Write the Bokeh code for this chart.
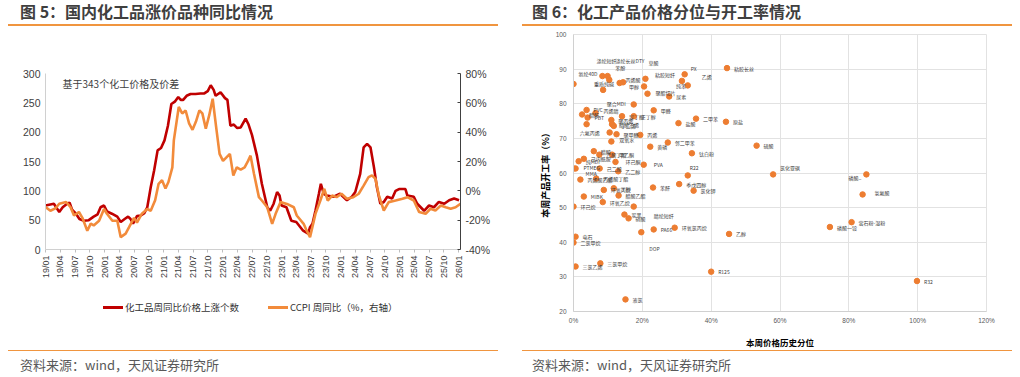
import math
from bokeh.plotting import figure
from bokeh.models import (Range1d, LinearAxis, FixedTicker, PrintfTickFormatter,
                          Label, Div, ColumnDataSource)
from bokeh.layouts import row, column
from bokeh.embed import file_html
from bokeh.resources import INLINE
from bokeh.core.properties import value

# ---------------- data: 图5 ----------------
tick_labels = ["19/01", "19/04", "19/07", "19/10", "20/01", "20/04", "20/07", "20/10",
               "21/01", "21/04", "21/07", "21/10", "22/01", "22/04", "22/07", "22/10",
               "23/01", "23/04", "23/07", "23/10", "24/01", "24/04", "24/07", "24/10",
               "25/01", "25/04", "25/07", "25/10", "26/01"]
series_names = ["化工品周同比价格上涨个数", "CCPI 周同比（%，右轴）"]

# months since 2019-01
red_month = [0, 1.7, 2.8, 3.5, 4.4, 4.9, 5.4, 6.2, 6.9, 7.8, 8.8, 9.8, 10.6, 11.2, 11.9, 12.5,
             13.5, 14.6, 15.3, 16.1, 16.8, 17.3, 17.8, 18.6, 19.4, 20.1, 20.7, 21.4, 22.1, 22.8,
             23.5, 24.2, 24.9, 25.6, 26.3, 27.0, 27.5, 28.0, 28.7, 29.5, 30.5, 31.5, 32.3, 33.0,
             33.6, 34.2, 34.6, 35.6, 36.5, 37.0, 37.6, 38.3, 39.0, 39.7, 40.7, 41.3, 42.0, 43.0,
             44.0, 45.1, 45.7, 46.4, 47.1, 47.6, 48.0, 49.0, 50.0, 51.0, 52.4, 53.4, 53.8, 54.3,
             54.9, 55.6, 56.0, 56.6, 57.2, 58.6, 59.9, 61.3, 62.3, 63.0, 64.0, 64.7, 65.4, 66.1,
             66.8, 67.4, 68.1, 68.8, 69.5, 70.5, 71.2, 71.9, 73.2, 73.6, 74.9, 75.6, 77.0, 78.0,
             79.0, 80.0, 81.1, 82.1, 83.1, 84.1]
red_count = [75, 78, 64, 72, 78, 80, 68, 61, 52, 49, 50, 56, 60, 72, 75, 65,
             61, 56, 47, 52, 56, 52, 44, 57, 58, 62, 72, 106, 135, 169,
             173, 186, 211, 248, 252, 260, 255, 255, 262, 265, 265, 266, 266, 270,
             280, 272, 262, 268, 258, 255, 211, 213, 207, 208, 223, 213, 195, 160,
             112, 72, 66, 78, 98, 92, 75, 72, 49, 47, 32, 27, 38, 44,
             66, 95, 112, 95, 92, 90, 95, 84, 90, 98, 129, 174, 180, 174,
             140, 106, 78, 81, 90, 87, 100, 103, 103, 92, 90, 78, 66, 75,
             72, 81, 78, 84, 87, 84]

orange_month = [0, 1.0, 2.0, 2.8, 4.2, 5.1, 5.8, 6.8, 7.5, 8.5, 9.2, 9.8, 10.9, 11.9, 12.5,
                13.6, 14.6, 15.3, 16.3, 17.0, 18.0, 18.6, 19.6, 20.7, 21.4, 22.3, 23.0, 23.7,
                24.4, 25.0, 25.8, 26.1, 27.1, 27.8, 28.5, 29.2, 29.9, 30.6, 31.3, 31.9, 32.6,
                33.3, 34.0, 34.7, 35.4, 36.1, 36.8, 37.5, 38.2, 38.9, 39.7, 40.5, 41.2, 41.7,
                42.4, 43.4, 44.0, 45.1, 46.1, 46.8, 47.8, 49.1, 50.5, 51.1, 52.5, 53.1, 53.8,
                54.9, 55.9, 56.7, 57.4, 58.3, 59.2, 60.2, 61.3, 62.6, 63.7, 64.7, 65.7, 66.4,
                67.1, 67.8, 68.8, 69.8, 71.2, 72.6, 73.6, 74.9, 76.0, 77.3, 78.3, 79.3, 80.4,
                81.4, 82.4, 83.4, 84.4]
orange_pct = [-11, -13.6, -12, -8.8, -7.6, -11.2, -16.8, -14.4, -18.4, -27.2, -22.4, -23.6,
              -20.4, -12.4, -15.6, -20.4, -20.4, -31.6, -29.2, -24.8, -18.4, -21.6, -15.6,
              -12.4, -13.6, -6.4, 4.8, 7.2, 1.6, 6, 16, 34.4, 57.2, 52.8, 54.8, 46, 41.6,
              47.2, 54.8, 52.8, 42.4, 51.6, 62.8, 43.6, 25.2, 20.4, 22.8, 25.2, 10.4, 16,
              14.5, 16, 20.4, 24, 11.6, -4.3, -6.6, -11.2, -22.5, -15.7, -7.7, -8.9, -11.2,
              -16.8, -22.5, -27, -31.6, -15.7, -6.6, 1.4, -6.6, -3.2, -4.3, -2, -5.4, -4.3,
              -2, 3.6, 9.3, 10.5, 8.2, -3.2, -13.4, -7.7, -6.6, -5.4, -4.3, -6.6, -14.5,
              -15.7, -12.2, -13.4, -10, -11.2, -12.2, -11.2, -8.8]

# ---------------- data: 图6 ----------------
names = ["氨纶40D", "涤纶短纤", "涤纶长丝DTY", "苯酚", "重质纯碱", "丙烯酸", "甲醇", "草酸",
         "粘胶短纤", "聚酯切片", "尿素", "纯苯", "PX", "乙烯", "粘胶长丝",
         "醋酐", "PVC", "PBT", "丙烯腈", "双酚A", "聚丙烯", "醋酸乙烯", "丁二烯", "异丁醇",
         "正丁醇", "聚合MDI", "甲醛", "盐酸", "二甲苯", "原盐",
         "六氟丙烯", "聚甲醛", "双氧水", "丙烯", "黄磷", "邻二甲苯", "醋酸", "乙酸丁酯",
         "甲乙酮", "己内酰胺", "纯MDI", "环己酮", "PVA", "PTMEG", "MMA", "己二酸", "乙二醇",
         "R22", "硫酸", "钛白粉", "氯化亚砜",
         "丙烯酸乙酯", "丙烯酸丁酯", "环氧丙烷", "丁醇", "醋酸乙酯", "苯酐", "季戊四醇",
         "氯化钾", "MIBK", "环氧乙烷", "环己烷", "腈纶短纤", "炭黑", "硝酸", "DOP", "PA66",
         "环氧氯丙烷", "乙醇", "电石", "二氯甲烷", "三氯甲烷", "三氯乙烯", "液氯", "R125",
         "R32", "萤石粉-湿粉", "磷酸一铵", "氢氟酸", "磷酸.."]
pctile = [0.0, 8.4, 9.9, 10.4, 8.6, 13.4, 14.4, 20.9,
          20.5, 21.5, 27.8, 31.5, 32.3, 33.2, 44.6,
          2.5, 3.8, 4.1, 6.4, 3.8, 11.0, 11.2, 11.7, 14.1,
          17.5, 17.5, 23.3, 30.5, 35.6, 44.3,
          10.5, 12.5, 11.0, 19.4, 22.3, 27.4, 5.9, 7.5,
          11.2, 3.0, 1.5, 12.2, 20.4, 0.0, 0.6, 7.6, 13.0,
          33.2, 53.2, 34.4, 58.0,
          2.0, 6.6, 8.8, 11.7, 13.1, 23.1, 30.7,
          34.9, 3.0, 8.5, 0.0, 17.5, 14.8, 16.0, 19.7, 23.3,
          29.4, 45.2, 0.6, 0.0, 7.8, 0.6, 15.1, 40.0,
          99.8, 80.8, 74.5, 85.1, 84.0]
util = [85.7, 88.0, 88.0, 86.9, 84.0, 86.0, 86.2, 87.2,
        85.0, 82.9, 82.1, 86.6, 88.5, 85.3, 90.3,
        76.9, 78.2, 76.0, 77.3, 74.1, 75.3, 74.1, 73.6, 76.4,
        76.4, 79.8, 78.1, 74.4, 75.7, 74.8,
        71.7, 71.2, 69.1, 71.0, 67.6, 68.8, 66.3, 65.3,
        65.3, 64.1, 63.4, 63.2, 62.4, 61.3, 61.3, 61.3, 60.5,
        59.3, 67.9, 65.7, 59.6,
        58.1, 58.4, 55.1, 55.6, 53.5, 55.8, 56.8,
        54.9, 53.2, 51.6, 50.3, 50.3, 48.0, 46.9, 42.9, 43.7,
        44.2, 42.4, 41.6, 39.9, 33.9, 33.0, 23.5, 31.5,
        28.8, 45.8, 44.4, 59.6, 53.8]

# ---------------- styles ----------------
CJK = "Noto Sans CJK SC"
LAT = "Liberation Sans"
RED = "#C00000"
ORANGE = "#F28B3B"
RULE = "#F0953F"

# label offsets (pixels) for crowded points; default is to the right
label_offsets = {
    "氨纶40D": (5, -11), "涤纶短纤": (-6, -16), "涤纶长丝DTY": (8, -16), "苯酚": (6, -12),
    "重质纯碱": (-9, -6), "丙烯酸": (6, -3), "甲醇": (6, 4), "草酸": (3, -16),
    "粘胶短纤": (11, -12), "聚酯切片": (8, -1), "纯苯": (-6, 5), "PX": (6, -6),
    "乙烯": (14, -9), "丙烯腈": (8, -3), "双酚A": (-31, -1), "聚合MDI": (-27, -1),
    "六氟丙烯": (-30, 0), "双氧水": (8, -2), "环己酮": (10, 0), "PVA": (10, 0),
    "PTMEG": (10, -1), "MMA": (10, 5), "R22": (2, -8), "氯化亚砜": (7, -7),
    "腈纶短纤": (20, 9), "DOP": (8, 16), "氢氟酸": (8, 18), "磷酸..": (-14, -17),
}
dx = [label_offsets.get(n, (7, 0))[0] for n in names]
dy = [label_offsets.get(n, (7, 0))[1] for n in names]

COL_W = 510


def header(txt, indent, pad):
    return Div(text=(f'<div style="box-sizing:border-box;margin-left:{indent}px;width:490px;height:26px;'
                     f'border-bottom:2px solid {RULE};padding-left:{pad}px;padding-top:2px;font-family:\'{CJK}\';'
                     f'font-weight:bold;font-size:16px;line-height:19px;color:#3F3F3F;white-space:nowrap;">'
                     f'{txt}</div>'),
               width=COL_W, height=26, margin=0)


def footer(txt, indent, pad):
    return Div(text=(f'<div style="box-sizing:border-box;margin-left:{indent}px;width:490px;height:27px;'
                     f'border-top:1.5px solid {RULE};padding-left:{pad}px;padding-top:6px;font-family:\'{CJK}\';'
                     f'font-size:13px;line-height:15px;color:#595959;white-space:nowrap;">'
                     f'{txt}</div>'),
               width=COL_W, height=27, margin=0)


def legend_div():
    items = [(103, RED, series_names[0]), (268, ORANGE, series_names[1])]
    parts = []
    for left, col, txt in items:
        parts.append(f'<span style="position:absolute;left:{left}px;top:10px;width:20px;height:3px;'
                     f'background:{col};"></span>')
        parts.append(f'<span style="position:absolute;left:{left + 22}px;top:4px;line-height:14px;'
                     f'white-space:nowrap;">{txt}</span>')
    return Div(text=(f'<div style="position:relative;width:{COL_W}px;height:54px;font-family:\'{CJK}\';'
                     f'font-size:9.5px;color:#333333;">' + "".join(parts) + '</div>'),
               width=COL_W, height=54, margin=0)


# ---------------- 图5 ----------------
p1 = figure(width=COL_W, height=270, x_range=Range1d(0, 84.4), y_range=Range1d(0, 300),
            output_backend="svg", toolbar_location=None,
            min_border_left=45, min_border_right=50, min_border_top=47, min_border_bottom=47)
p1.extra_y_ranges = {"pct": Range1d(-40, 80)}
p1.grid.visible = False
p1.outline_line_color = None

xa = p1.xaxis[0]
xa.ticker = FixedTicker(ticks=[3 * i for i in range(len(tick_labels))])
xa.major_label_overrides = {3 * i: t for i, t in enumerate(tick_labels)}
xa.major_label_orientation = math.pi / 2
xa.axis_line_color = "#D0D0D0"
xa.major_tick_line_color = "#BFBFBF"
xa.major_tick_out = 3
xa.major_tick_in = 0
xa.minor_tick_line_color = None
xa.major_label_standoff = 3
xa.major_label_text_font = LAT
xa.major_label_text_font_size = "9px"
xa.major_label_text_color = "#404040"

ya = p1.yaxis[0]
ya.ticker = FixedTicker(ticks=[0, 50, 100, 150, 200, 250, 300])
ya.axis_line_color = "#D0D0D0"
ya.major_tick_line_color = None
ya.major_tick_out = 0
ya.major_tick_in = 0
ya.minor_tick_line_color = None
ya.major_label_standoff = 5
ya.major_label_text_font = LAT
ya.major_label_text_font_size = "10.5px"
ya.major_label_text_color = "#404040"

ra = LinearAxis(y_range_name="pct", ticker=FixedTicker(ticks=[-40, -20, 0, 20, 40, 60, 80]),
                formatter=PrintfTickFormatter(format="%d%%"))
ra.axis_line_color = "#404040"
ra.major_tick_line_color = "#404040"
ra.major_tick_in = 3
ra.major_tick_out = 0
ra.minor_tick_line_color = None
ra.major_label_standoff = 5
ra.major_label_text_font = LAT
ra.major_label_text_font_size = "10.5px"
ra.major_label_text_color = "#404040"
p1.add_layout(ra, "right")

p1.line(red_month, red_count, line_color=RED, line_width=2.6)
p1.line(orange_month, orange_pct, y_range_name="pct", line_color=ORANGE, line_width=2.6)

p1.add_layout(Label(x=17, y=174, x_units="screen", y_units="screen", text="基于343个化工价格及价差",
                    text_baseline="top", text_font=CJK, text_font_size="10px", text_color="#404040"))

# ---------------- 图6 ----------------
p2 = figure(width=COL_W, height=324, x_range=Range1d(0, 120), y_range=Range1d(20, 100),
            output_backend="svg", toolbar_location=None,
            min_border_left=63, min_border_right=34, min_border_top=8, min_border_bottom=34)
p2.outline_line_color = "#E2E2E2"
p2.grid.grid_line_color = "#E2E2E2"
p2.grid.grid_line_width = 1

xb = p2.xaxis[0]
xb.ticker = FixedTicker(ticks=[0, 20, 40, 60, 80, 100, 120])
xb.formatter = PrintfTickFormatter(format="%d%%")
xb.axis_label = "本周价格历史分位"
yb = p2.yaxis[0]
yb.ticker = FixedTicker(ticks=[20, 30, 40, 50, 60, 70, 80, 90, 100])
yb.axis_label = "本周产品开工率（%）"
for ax in (xb, yb):
    ax.axis_line_color = "#D0D0D0"
    ax.major_tick_line_color = None
    ax.major_tick_out = 0
    ax.major_tick_in = 0
    ax.minor_tick_line_color = None
    ax.major_label_text_font = LAT
    ax.major_label_text_font_size = "6.5px"
    ax.major_label_text_color = "#595959"
    ax.axis_label_text_font = CJK
    ax.axis_label_text_font_style = "bold"
    ax.axis_label_text_color = "#000000"
xb.major_label_standoff = 5
xb.axis_label_standoff = 9
xb.axis_label_text_font_size = "8.5px"
yb.major_label_standoff = 7
yb.axis_label_standoff = 1
yb.axis_label_text_font_size = "9px"

src = ColumnDataSource(dict(x=pctile, y=util, name=names, dx=dx, dy=dy))
p2.scatter("x", "y", source=src, size=5.5, fill_color="#ED7D31", line_color="#ED7D31")
p2.text("x", "y", text="name", source=src, x_offset="dx", y_offset="dy",
        text_font=value(CJK), text_font_size="5px", text_baseline="middle",
        text_color="#404040")

left = column(header("图 5：国内化工品涨价品种同比情况", 8, 12), p1, legend_div(),
              footer("资料来源：wind，天风证券研究所", 8, 12))
right = column(header("图 6：化工产品价格分位与开工率情况", 12, 10), p2,
               footer("资料来源：wind，天风证券研究所", 12, 10))
layout = row(left, right)

open("out.html", "w").write(file_html(layout, INLINE))
